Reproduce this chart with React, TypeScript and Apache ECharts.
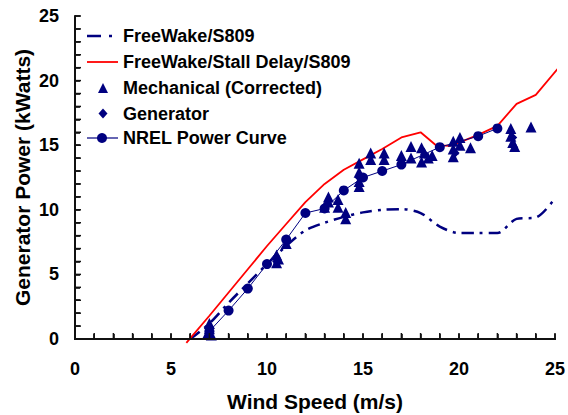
import React, { useEffect, useRef } from "react";
import * as echarts from "echarts";

// FreeWake/S809 (dash-dot)
const fwWind = [6, 7, 8, 9, 10, 11, 12, 13, 14, 15, 16, 17, 18, 19, 20, 21, 22, 23, 24, 25];
const fwPower = [0, 1.2, 2.8, 4.3, 5.8, 7.2, 8.4, 9.0, 9.45, 9.8, 10.0, 10.05, 9.75, 8.7, 8.2, 8.2, 8.2, 9.3, 9.4, 10.9];

// FreeWake/Stall Delay/S809 (red)
const sdWind = [5.8, 7, 8, 9, 10, 11, 12, 13, 14, 15, 16, 17, 18, 18.8, 19.5, 20, 21, 22, 23, 24, 25.3];
const sdPower = [-0.3, 1.8, 3.6, 5.4, 7.2, 8.9, 10.6, 12.0, 13.1, 13.9, 14.7, 15.6, 16.0, 15.0, 14.95, 15.2, 15.8, 16.5, 18.2, 18.9, 21.2];

// Mechanical (Corrected) triangles
const mechWind = [6.9, 7.0, 7.0, 7.1, 10.5, 10.5, 10.6, 11.0, 13.0, 13.2, 13.2, 13.7, 13.7, 14.1, 14.1, 14.8, 14.8, 14.8, 14.8, 15.4, 15.4, 16.1, 16.1, 17.0, 17.5, 17.5, 18.05, 18.05, 18.2, 18.4, 18.6, 19.7, 19.7, 19.7, 20.05, 20.05, 20.6, 22.7, 22.7, 22.8, 22.9, 23.75];
const mechPower = [0.4, 0.8, 1.2, 0.3, 5.9, 6.5, 6.2, 7.4, 10.2, 10.6, 11.0, 10.2, 10.8, 9.3, 9.8, 11.8, 12.2, 12.9, 13.6, 13.9, 14.4, 13.9, 14.4, 14.2, 14.0, 14.9, 13.7, 14.8, 14.4, 14.0, 14.2, 14.1, 14.7, 15.3, 15.0, 15.6, 14.8, 16.3, 15.7, 15.2, 14.9, 16.4];

// Generator diamonds
const genWind = [7.0, 10.5, 13.1, 14.8, 18.2, 19.8, 22.8];
const genPower = [0.5, 6.0, 10.4, 12.5, 14.3, 14.4, 15.6];

// NREL Power Curve
const nrelWind = [7, 8, 9, 10, 11, 12, 13, 14, 15, 16, 17, 19, 21, 22];
const nrelPower = [0.6, 2.2, 3.9, 5.8, 7.7, 9.75, 10.1, 11.5, 12.5, 13.0, 13.5, 14.85, 15.7, 16.3];

const xTicks = [0, 5, 10, 15, 20, 25];
const yTicks = [0, 5, 10, 15, 20, 25];
const xTitle = "Wind Speed (m/s)";
const yTitle = "Generator Power (kWatts)";
const legendNames = [
  "FreeWake/S809",
  "FreeWake/Stall Delay/S809",
  "Mechanical (Corrected)",
  "Generator",
  "NREL Power Curve",
];

const zip = (a: number[], b: number[]) => a.map((v, i) => [v, b[i]]);

const NAVY = "#000080";
const RED = "#ff0000";
const FONT = "'Liberation Sans', Arial, sans-serif";
const AX_MIN = 0;
const AX_MAX = 25;

export default function App() {
  const ref = useRef<HTMLDivElement>(null);
  useEffect(() => {
    if (!ref.current) return;
    const chart = echarts.init(ref.current, undefined, { renderer: "svg" });

    const rowY = [36, 62, 88, 113.5, 138];
    const iconX1 = 87;
    const iconX2 = 118;
    const iconC = 103;
    const legendGraphics: any[] = [
      { type: "line", shape: { x1: iconX1, y1: rowY[0], x2: iconX2, y2: rowY[0] }, style: { stroke: NAVY, lineWidth: 2.5, lineDash: [14, 8, 3, 8] } },
      { type: "line", shape: { x1: iconX1, y1: rowY[1], x2: iconX2, y2: rowY[1] }, style: { stroke: RED, lineWidth: 1.8 } },
      { type: "polygon", shape: { points: [[iconC, rowY[2] - 5], [iconC + 5, rowY[2] + 5], [iconC - 5, rowY[2] + 5]] }, style: { fill: NAVY } },
      { type: "polygon", shape: { points: [[iconC, rowY[3] - 5], [iconC + 4.5, rowY[3]], [iconC, rowY[3] + 5], [iconC - 4.5, rowY[3]]] }, style: { fill: NAVY } },
      { type: "line", shape: { x1: iconX1, y1: rowY[4], x2: iconX2, y2: rowY[4] }, style: { stroke: NAVY, lineWidth: 1.2 } },
      { type: "circle", shape: { cx: iconC - 1, cy: rowY[4], r: 5 }, style: { fill: NAVY } },
      ...legendNames.map((t, i) => ({
        type: "text",
        x: 123,
        y: rowY[i],
        style: { text: t, fill: "#000", font: `bold 18px ${FONT}`, textVerticalAlign: "middle", verticalAlign: "middle" },
      })),
    ];

    const baseAxis = (fmtTicks: number[], margin: number) => ({
      type: "value",
      min: AX_MIN,
      max: AX_MAX,
      interval: 1,
      axisLine: { show: true, onZero: false, lineStyle: { color: "#000", width: 2 } },
      axisTick: { show: true, inside: true, length: 5, lineStyle: { color: "#000", width: 1.5 } },
      splitLine: { show: false },
      axisLabel: {
        show: true,
        margin,
        fontSize: 18,
        fontWeight: "bold",
        color: "#000",
        fontFamily: FONT,
        formatter: (v: number) => (fmtTicks.includes(v) ? String(v) : ""),
      },
    });

    // Axis frame with tick marks as a custom series, positioned through the chart's own scales
    const frameData = [[AX_MIN, AX_MIN]];

    chart.setOption({
      animation: false,
      backgroundColor: "#ffffff",
      textStyle: { fontFamily: FONT },
      grid: { left: 75, right: 11, top: 16, bottom: 76 },
      graphic: legendGraphics,
      xAxis: baseAxis(xTicks, 21),
      yAxis: baseAxis(yTicks, 16),
      series: [
        {
          name: legendNames[0],
          type: "line",
          data: zip(fwWind, fwPower),
          symbol: "none",
          smooth: 0.3,
          itemStyle: { color: NAVY },
          lineStyle: { color: NAVY, width: 2.5, type: [12, 6, 3, 6] },
          z: 2,
        },
        {
          name: legendNames[1],
          type: "line",
          data: zip(sdWind, sdPower),
          symbol: "none",
          clip: false,
          itemStyle: { color: RED },
          lineStyle: { color: RED, width: 1.8 },
          z: 2,
        },
        {
          name: legendNames[2],
          type: "scatter",
          data: zip(mechWind, mechPower),
          symbol: "triangle",
          symbolSize: [11, 11],
          itemStyle: { color: NAVY, opacity: 1 },
          z: 3,
        },
        {
          name: legendNames[3],
          type: "scatter",
          data: zip(genWind, genPower),
          symbol: "diamond",
          symbolSize: 9,
          itemStyle: { color: NAVY, opacity: 1 },
          z: 3,
        },
        {
          name: legendNames[4],
          type: "line",
          data: zip(nrelWind, nrelPower),
          symbol: "circle",
          symbolSize: 10,
          showAllSymbol: true,
          itemStyle: { color: NAVY, borderWidth: 0 },
          lineStyle: { color: NAVY, width: 1 },
          z: 4,
        },
        {
          name: "axisFrame",
          type: "custom",
          silent: true,
          clip: false,
          z: 10,
          data: frameData,
          renderItem: (params: any, api: any) => {
            const o = api.coord([AX_MIN, AX_MIN]);
            const xe = api.coord([AX_MAX, AX_MIN]);
            const ye = api.coord([AX_MIN, AX_MAX]);
            const children: any[] = [
              { type: "rect", shape: { x: o[0] - 1, y: o[1] - 1, width: xe[0] - o[0] + 2, height: 2 }, style: { fill: "#111111" } },
              { type: "rect", shape: { x: o[0] - 1, y: ye[1], width: 2, height: o[1] - ye[1] + 1 }, style: { fill: "#111111" } },
            ];
            for (let v = AX_MIN + 1; v <= AX_MAX; v++) {
              const p = api.coord([v, AX_MIN]);
              children.push({ type: "rect", shape: { x: p[0] - 0.75, y: p[1] - 6, width: 1.5, height: 6 }, style: { fill: "#111111" } });
              const q = api.coord([AX_MIN, v]);
              children.push({ type: "rect", shape: { x: q[0], y: q[1] - 0.75, width: 6, height: 1.5 }, style: { fill: "#111111" } });
            }
            return { type: "group", children };
          },
        },
      ],
    });

    const px = (x: number, y: number) => chart.convertToPixel({ gridIndex: 0 }, [x, y]) as number[];
    const o = px(AX_MIN, AX_MIN);
    const xe = px(AX_MAX, AX_MIN);
    const ye = px(AX_MIN, AX_MAX);
    const titleGraphics: any[] = [
      {
        type: "text",
        x: (o[0] + xe[0]) / 2,
        y: o[1] + 62,
        style: { text: xTitle, fill: "#000", font: `bold 21px ${FONT}`, align: "center", verticalAlign: "middle" },
      },
      {
        type: "text",
        x: 22,
        y: (o[1] + ye[1]) / 2,
        rotation: Math.PI / 2,
        style: { text: yTitle, fill: "#000", font: `bold 21px ${FONT}`, align: "center", verticalAlign: "middle" },
      },
    ];
    chart.setOption({ graphic: [...legendGraphics, ...titleGraphics] });

    return () => chart.dispose();
  }, []);
  return <div ref={ref} style={{ width: 568, height: 415, position: "absolute", left: 0, top: 0 }} />;
}
